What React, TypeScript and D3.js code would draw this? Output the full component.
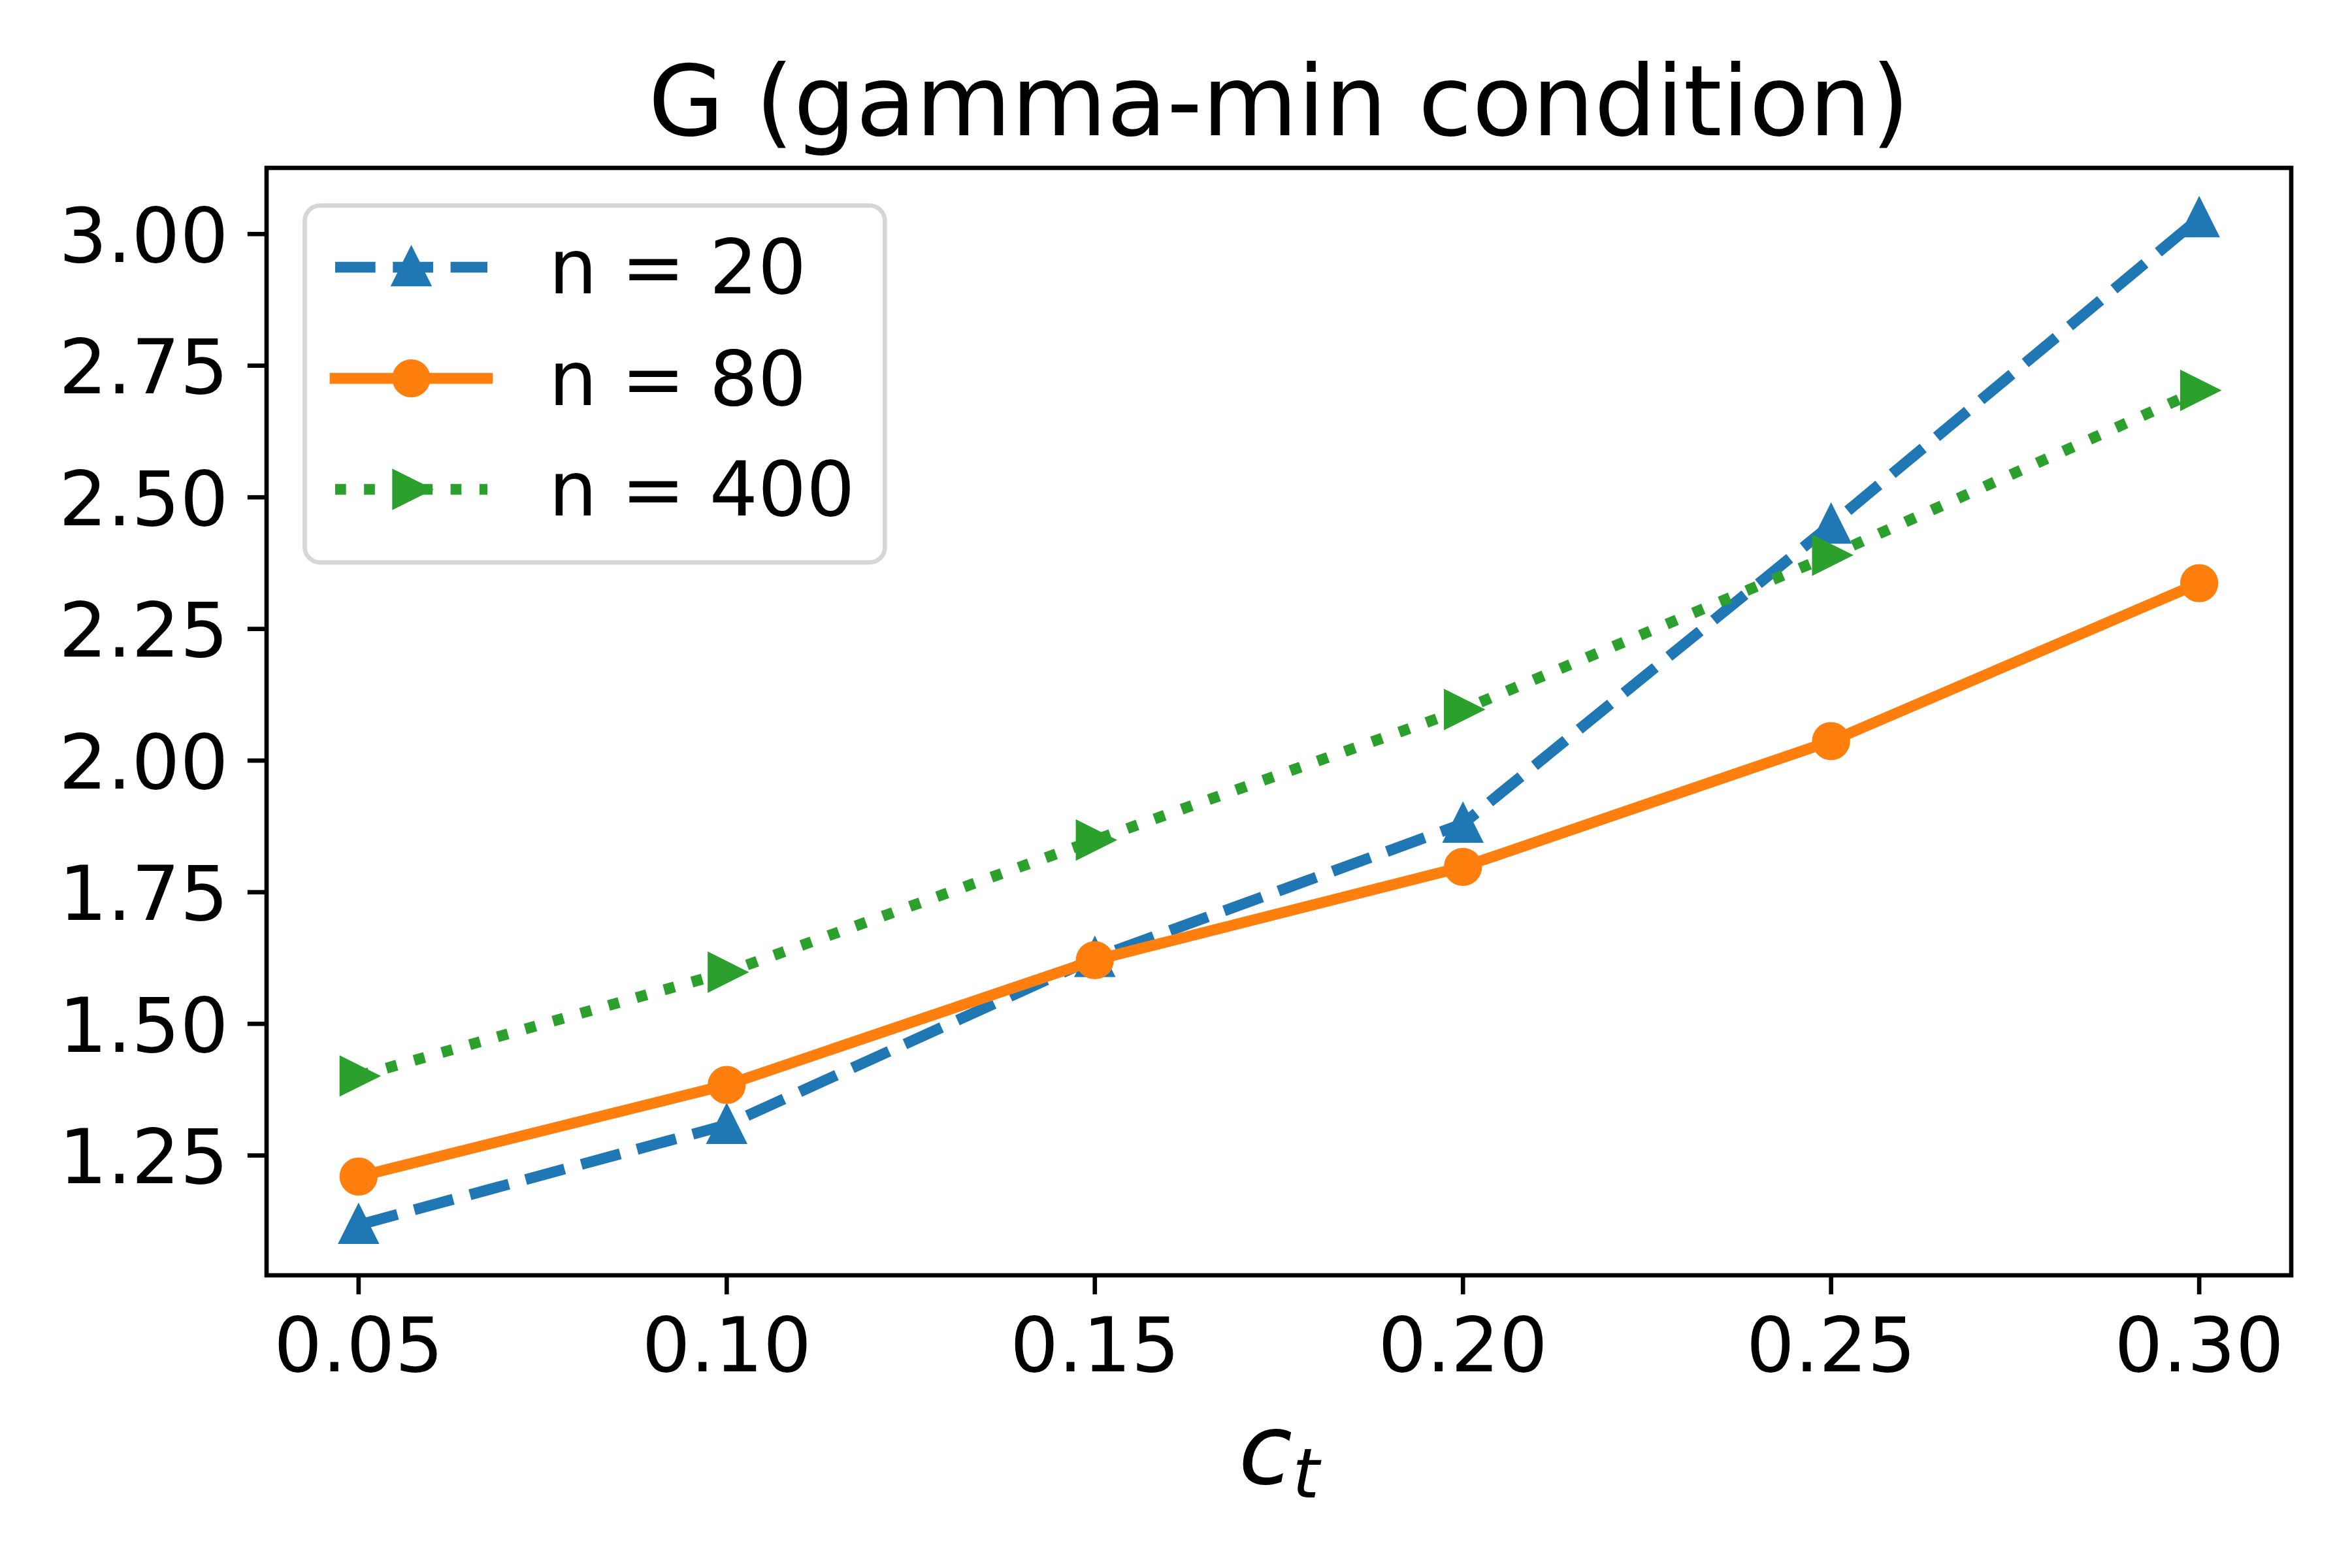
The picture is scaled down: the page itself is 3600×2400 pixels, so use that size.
import React from "react";
import * as d3 from "d3";

const X_VALUES = [0.05, 0.1, 0.15, 0.2, 0.25, 0.3];
const N20 = [1.118, 1.308, 1.625, 1.88, 2.448, 3.03];
const N80 = [1.21, 1.384, 1.621, 1.798, 2.037, 2.337];
const N400 = [1.401, 1.598, 1.849, 2.097, 2.39, 2.703];
const X_TICKS = [0.05, 0.1, 0.15, 0.2, 0.25, 0.3];
const Y_TICKS = [1.25, 1.5, 1.75, 2.0, 2.25, 2.5, 2.75, 3.0];
const LABELS = ["n = 20", "n = 80", "n = 400"];
const COLORS = ["#1f77b4", "#ff7f0e", "#2ca02c"];
const TITLE = "G (gamma-min condition)";

const W = 3600;
const H = 2400;
const PT = 600 / 72;
const L = 408, R = 3507, T = 257, B = 1952;
const FONT = "DejaVu Sans, Verdana, sans-serif";

function triUp(cx: number, cy: number, s: number) {
  return `M${cx},${cy - s}L${cx - s},${cy + s}L${cx + s},${cy + s}Z`;
}
function triRight(cx: number, cy: number, s: number) {
  return `M${cx + s},${cy}L${cx - s},${cy - s}L${cx - s},${cy + s}Z`;
}

type Series = { vals: number[]; color: string; dash: string | null; marker: string; label: string };

export default function App() {
  const ymin = d3.min([...N20, ...N80, ...N400]) as number;
  const ymax = d3.max([...N20, ...N80, ...N400]) as number;
  const ym = (ymax - ymin) * 0.05;
  const x = d3.scaleLinear().domain([0.0375, 0.3125]).range([L, R]);
  const y = d3.scaleLinear().domain([ymin - ym, ymax + ym]).range([B, T]);

  const lw = 2 * PT;
  const ms = 3 * PT; // half-size of marker (6pt marker)
  const mew = 1 * PT;
  const series: Series[] = [
    { vals: N20, color: COLORS[0], dash: `${3.7 * lw} ${1.6 * lw}`, marker: "tri", label: LABELS[0] },
    { vals: N80, color: COLORS[1], dash: null, marker: "circle", label: LABELS[1] },
    { vals: N400, color: COLORS[2], dash: `${1 * lw} ${1.65 * lw}`, marker: "triR", label: LABELS[2] },
  ];

  const line = d3.line<number>().x((_, i) => x(X_VALUES[i])).y((d) => y(d));

  const marker = (kind: string, cx: number, cy: number, color: string, key: string) => {
    if (kind === "circle")
      return <circle key={key} cx={cx} cy={cy} r={ms} fill={color} stroke={color} strokeWidth={mew} />;
    const d = kind === "tri" ? triUp(cx, cy, ms) : triRight(cx, cy, ms);
    return <path key={key} d={d} fill={color} stroke={color} strokeWidth={mew} strokeLinejoin="miter" />;
  };

  const tickLen = 3.5 * PT;
  const tickW = 0.8 * PT;
  const tickFont = 14 * PT;

  // legend geometry
  const legL = 466.5, legR = 1354.4, legT = 314.7, legB = 860.8;
  const rowY = [409, 579.2, 749];
  const hx0 = 513, hx1 = 746;
  const hcx = (hx0 + hx1) / 2;
  const textX = 840;

  return (
    <div style={{ position: "absolute", left: 0, top: 0 }}>
      <svg width={W} height={H} viewBox={`0 0 ${W} ${H}`} style={{ display: "block", background: "#fff" }}>
        <rect x={0} y={0} width={W} height={H} fill="#fff" />
        {/* series */}
        {series.map((s, si) => (
          <g key={si}>
            <path
              d={line(s.vals) as string}
              fill="none"
              stroke={s.color}
              strokeWidth={lw}
              strokeDasharray={s.dash ?? undefined}
              strokeLinecap={s.dash ? "butt" : "square"}
              strokeLinejoin="round"
            />
            {s.vals.map((v, i) => marker(s.marker, x(X_VALUES[i]), y(v), s.color, `m${si}-${i}`))}
          </g>
        ))}
        {/* spines */}
        <rect x={L} y={T} width={R - L} height={B - T} fill="none" stroke="#000" strokeWidth={tickW} strokeLinejoin="miter" />
        {/* x ticks */}
        {X_TICKS.map((t) => (
          <g key={`xt${t}`}>
            <line x1={x(t)} x2={x(t)} y1={B} y2={B + tickLen} stroke="#000" strokeWidth={tickW} />
            <text x={x(t)} y={2099} textAnchor="middle" fontFamily={FONT} fontSize={tickFont} fill="#000">
              {t.toFixed(2)}
            </text>
          </g>
        ))}
        {/* y ticks */}
        {Y_TICKS.map((t) => (
          <g key={`yt${t}`}>
            <line x1={L - tickLen} x2={L} y1={y(t)} y2={y(t)} stroke="#000" strokeWidth={tickW} />
            <text x={L - 2 * tickLen} y={y(t) + 0.364 * tickFont} textAnchor="end" fontFamily={FONT} fontSize={tickFont} fill="#000">
              {t.toFixed(2)}
            </text>
          </g>
        ))}
        {/* title */}
        <text x={(L + R) / 2} y={207} textAnchor="middle" fontFamily={FONT} fontSize={18 * PT} fill="#000">
          {TITLE}
        </text>
        {/* x label */}
        <text x={(L + R) / 2} y={2271} textAnchor="middle" fontFamily={FONT} fontStyle="italic" fontSize={18 * PT} fill="#000">
          c
          <tspan fontSize={18 * PT * 0.7} dy={21}>t</tspan>
        </text>
        {/* legend */}
        <rect
          x={legL}
          y={legT}
          width={legR - legL}
          height={legB - legT}
          rx={0.2 * tickFont}
          ry={0.2 * tickFont}
          fill="rgba(255,255,255,0.8)"
          stroke="#d6d6d6"
          strokeWidth={tickW}
        />
        {series.map((s, si) => (
          <g key={`leg${si}`}>
            <line
              x1={hx0}
              x2={hx1}
              y1={rowY[si]}
              y2={rowY[si]}
              stroke={s.color}
              strokeWidth={lw}
              strokeDasharray={s.dash ?? undefined}
              strokeLinecap={s.dash ? "butt" : "square"}
            />
            {marker(s.marker, hcx, rowY[si], s.color, `lm${si}`)}
            <text x={textX} y={rowY[si] + 40.4} fontFamily={FONT} fontSize={tickFont} fill="#000">
              {s.label}
            </text>
          </g>
        ))}
      </svg>
    </div>
  );
}
